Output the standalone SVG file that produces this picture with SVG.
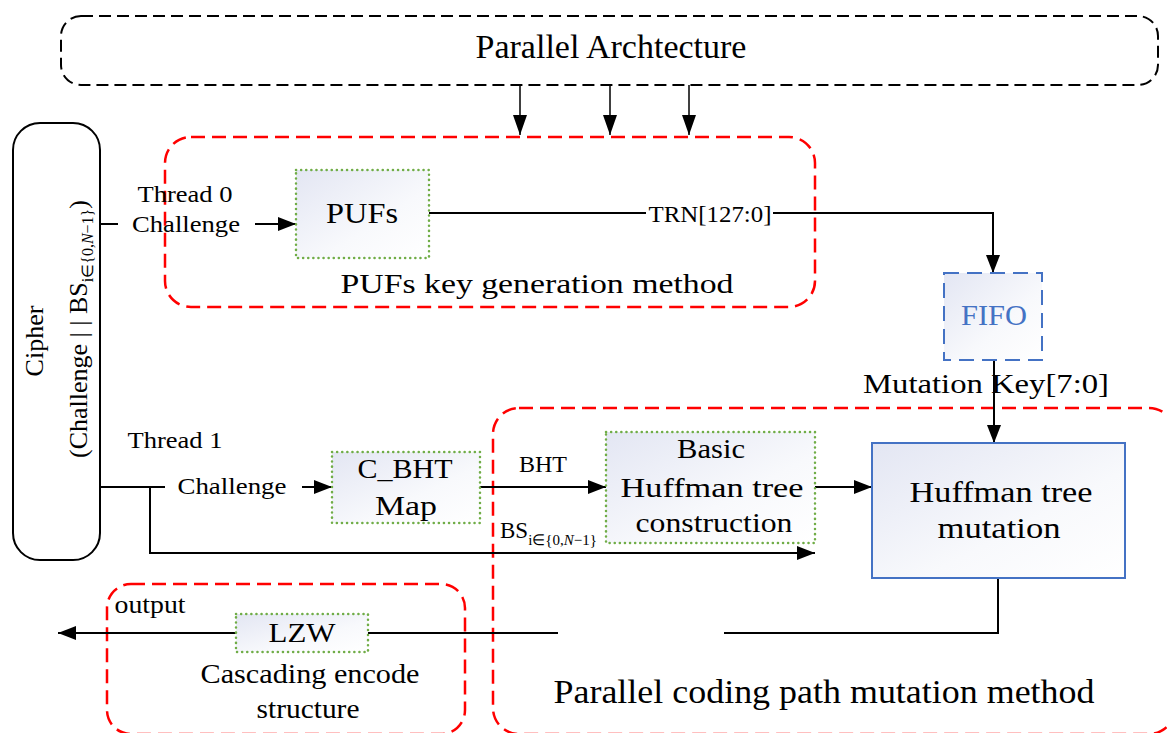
<svg xmlns="http://www.w3.org/2000/svg" width="1167" height="733" viewBox="0 0 1167 733">
  <defs>
    <linearGradient id="boxFill" x1="0" y1="0" x2="1" y2="1">
      <stop offset="0" stop-color="#E3E6F3"/>
      <stop offset="0.6" stop-color="#F8F9FC"/>
      <stop offset="1" stop-color="#FFFFFF"/>
    </linearGradient>
    <marker id="arrow" viewBox="0 0 18 14" refX="18" refY="7" markerWidth="18" markerHeight="14" markerUnits="userSpaceOnUse" orient="auto">
      <path d="M0,0 L18,7 L0,14 Z" fill="#000"/>
    </marker>
    <marker id="arrowThin" viewBox="0 0 14 20" refX="7" refY="20" markerWidth="14" markerHeight="20" markerUnits="userSpaceOnUse" orient="0">
      <path d="M0,0 L14,0 L7,20 Z" fill="#000"/>
    </marker>
  </defs>
  <style>
    text { font-family: "Liberation Serif", "Times New Roman", serif; fill: #000; }
    .mid { text-anchor: middle; }
    .region { fill: none; stroke: #FF0000; stroke-width: 2.5; stroke-dasharray: 14 7; }
    .outer { fill: none; stroke: #000; stroke-width: 2; stroke-dasharray: 12 6; }
    .block { fill: url(#boxFill); stroke: #70AD47; stroke-width: 2.5; stroke-dasharray: 0.1 5; stroke-linecap: round; }
    .fifo { fill: url(#boxFill); stroke: #4472C4; stroke-width: 2; stroke-dasharray: 15 8; }
    .core { fill: url(#boxFill); stroke: #4472C4; stroke-width: 2; }
    .wire { fill: none; stroke: #000; stroke-width: 2; }
    .wireThin { fill: none; stroke: #000; stroke-width: 1.5; }
  </style>

  <rect width="1167" height="733" fill="#FFFFFF"/>

  <!-- Functional regions -->
  <g id="parallel-architecture">
    <rect class="outer" x="61" y="16" width="1097" height="69" rx="20"/>
    <text class="mid" x="611" y="58" font-size="34">Parallel Archtecture</text>
  </g>

  <g id="puf-region">
    <rect class="region" x="165" y="137" width="650" height="170" rx="26"/>
    <text class="mid" x="537" y="293" font-size="28" textLength="393" lengthAdjust="spacingAndGlyphs">PUFs key generation method</text>
  </g>

  <g id="coding-region">
    <rect class="region" x="493" y="408" width="682" height="326" rx="26"/>
    <text class="mid" x="824" y="703" font-size="34" textLength="541" lengthAdjust="spacingAndGlyphs">Parallel coding path mutation method</text>
  </g>

  <g id="cascade-region">
    <rect class="region" x="107" y="584" width="358" height="150" rx="24"/>
    <text class="mid" x="310" y="683" font-size="28" textLength="219" lengthAdjust="spacingAndGlyphs">Cascading encode</text>
    <text class="mid" x="308" y="718" font-size="28" textLength="103" lengthAdjust="spacingAndGlyphs">structure</text>
  </g>

  <!-- Connectors -->
  <g id="connectors">
    <!-- parallel architecture feeding the key generator -->
    <line class="wireThin" x1="520" y1="85" x2="520" y2="135" marker-end="url(#arrowThin)"/>
    <line class="wireThin" x1="610" y1="85" x2="610" y2="135" marker-end="url(#arrowThin)"/>
    <line class="wireThin" x1="689" y1="85" x2="689" y2="135" marker-end="url(#arrowThin)"/>

    <!-- thread 0 -->
    <line class="wire" x1="100" y1="224" x2="118" y2="224"/>
    <line class="wire" x1="255" y1="224" x2="296" y2="224" marker-end="url(#arrow)"/>

    <!-- TRN to FIFO -->
    <line class="wire" x1="429" y1="213" x2="646" y2="213"/>
    <path class="wire" d="M773,213 H993 V273" marker-end="url(#arrow)"/>

    <!-- FIFO to mutation -->
    <line class="wire" x1="994" y1="360" x2="994" y2="443" marker-end="url(#arrow)"/>

    <!-- thread 1 -->
    <line class="wire" x1="100" y1="487" x2="165" y2="487"/>
    <path class="wire" d="M150,487 V553 H815" marker-end="url(#arrow)"/>
    <line class="wire" x1="302" y1="487" x2="332" y2="487" marker-end="url(#arrow)"/>

    <!-- BHT -->
    <line class="wire" x1="480" y1="487" x2="606" y2="487" marker-end="url(#arrow)"/>
    <line class="wire" x1="815" y1="487" x2="872" y2="487" marker-end="url(#arrow)"/>

    <!-- mutation result to LZW and output -->
    <path class="wire" d="M998,578 V633 H724"/>
    <line class="wire" x1="558" y1="633" x2="368" y2="633"/>
    <line class="wire" x1="236" y1="633" x2="58" y2="633" marker-end="url(#arrow)"/>

    <!-- connector labels -->
    <text class="mid" x="185" y="202" font-size="23" textLength="95" lengthAdjust="spacingAndGlyphs">Thread 0</text>
    <text class="mid" x="186" y="232" font-size="23" textLength="108" lengthAdjust="spacingAndGlyphs">Challenge</text>
    <text class="mid" x="710" y="222" font-size="24" textLength="123" lengthAdjust="spacingAndGlyphs">TRN[127:0]</text>
    <text class="mid" x="986" y="393" font-size="28" textLength="246" lengthAdjust="spacingAndGlyphs">Mutation Key[7:0]</text>
    <text class="mid" x="175" y="448" font-size="23" textLength="95" lengthAdjust="spacingAndGlyphs">Thread 1</text>
    <text class="mid" x="232" y="494" font-size="23" textLength="109" lengthAdjust="spacingAndGlyphs">Challenge</text>
    <text class="mid" x="543" y="472" font-size="23" textLength="48" lengthAdjust="spacingAndGlyphs">BHT</text>
    <text x="500" y="538" font-size="23">BS<tspan font-size="15" dy="7">i∈{0,<tspan font-style="italic">N</tspan>−1}</tspan></text>
    <text class="mid" x="150" y="613" font-size="25" textLength="71" lengthAdjust="spacingAndGlyphs">output</text>
  </g>

  <!-- Nodes -->
  <g id="cipher">
    <rect x="13" y="123" width="87" height="437" rx="27" fill="#FFFFFF" stroke="#000" stroke-width="2"/>
    <text class="mid" transform="translate(43,341) rotate(-90)" font-size="26">Cipher</text>
    <text class="mid" transform="translate(87,329) rotate(-90)" font-size="26">(Challenge | | BS<tspan font-size="16" dy="6">i∈{0,<tspan font-style="italic">N</tspan>−1}</tspan><tspan dy="-6">)</tspan></text>
  </g>

  <g id="pufs">
    <rect class="block" x="296" y="170" width="133" height="88"/>
    <text class="mid" x="362" y="223" font-size="29" textLength="72" lengthAdjust="spacingAndGlyphs">PUFs</text>
  </g>

  <g id="fifo">
    <rect class="fifo" x="944" y="273" width="98" height="87"/>
    <text class="mid" x="994" y="325" font-size="29" textLength="66" lengthAdjust="spacingAndGlyphs" style="fill:#4472C4">FIFO</text>
  </g>

  <g id="c-bht-map">
    <rect class="block" x="332" y="452" width="148" height="71"/>
    <text class="mid" x="405" y="478" font-size="28" textLength="95" lengthAdjust="spacingAndGlyphs">C_BHT</text>
    <text class="mid" x="406" y="515" font-size="28" textLength="62" lengthAdjust="spacingAndGlyphs">Map</text>
  </g>

  <g id="basic-huffman">
    <rect class="block" x="606" y="432" width="209" height="111"/>
    <text class="mid" x="711" y="458" font-size="27" textLength="68" lengthAdjust="spacingAndGlyphs">Basic</text>
    <text class="mid" x="712" y="497" font-size="27" textLength="183" lengthAdjust="spacingAndGlyphs">Huffman tree</text>
    <text class="mid" x="714" y="532" font-size="27" textLength="157" lengthAdjust="spacingAndGlyphs">construction</text>
  </g>

  <g id="huffman-mutation">
    <rect class="core" x="872" y="443" width="253" height="135"/>
    <text class="mid" x="1001" y="502" font-size="29" textLength="183" lengthAdjust="spacingAndGlyphs">Huffman tree</text>
    <text class="mid" x="999" y="538" font-size="29" textLength="123" lengthAdjust="spacingAndGlyphs">mutation</text>
  </g>

  <g id="lzw">
    <rect class="block" x="236" y="614" width="132" height="38"/>
    <text class="mid" x="302" y="642" font-size="28" textLength="67" lengthAdjust="spacingAndGlyphs">LZW</text>
  </g>
</svg>
